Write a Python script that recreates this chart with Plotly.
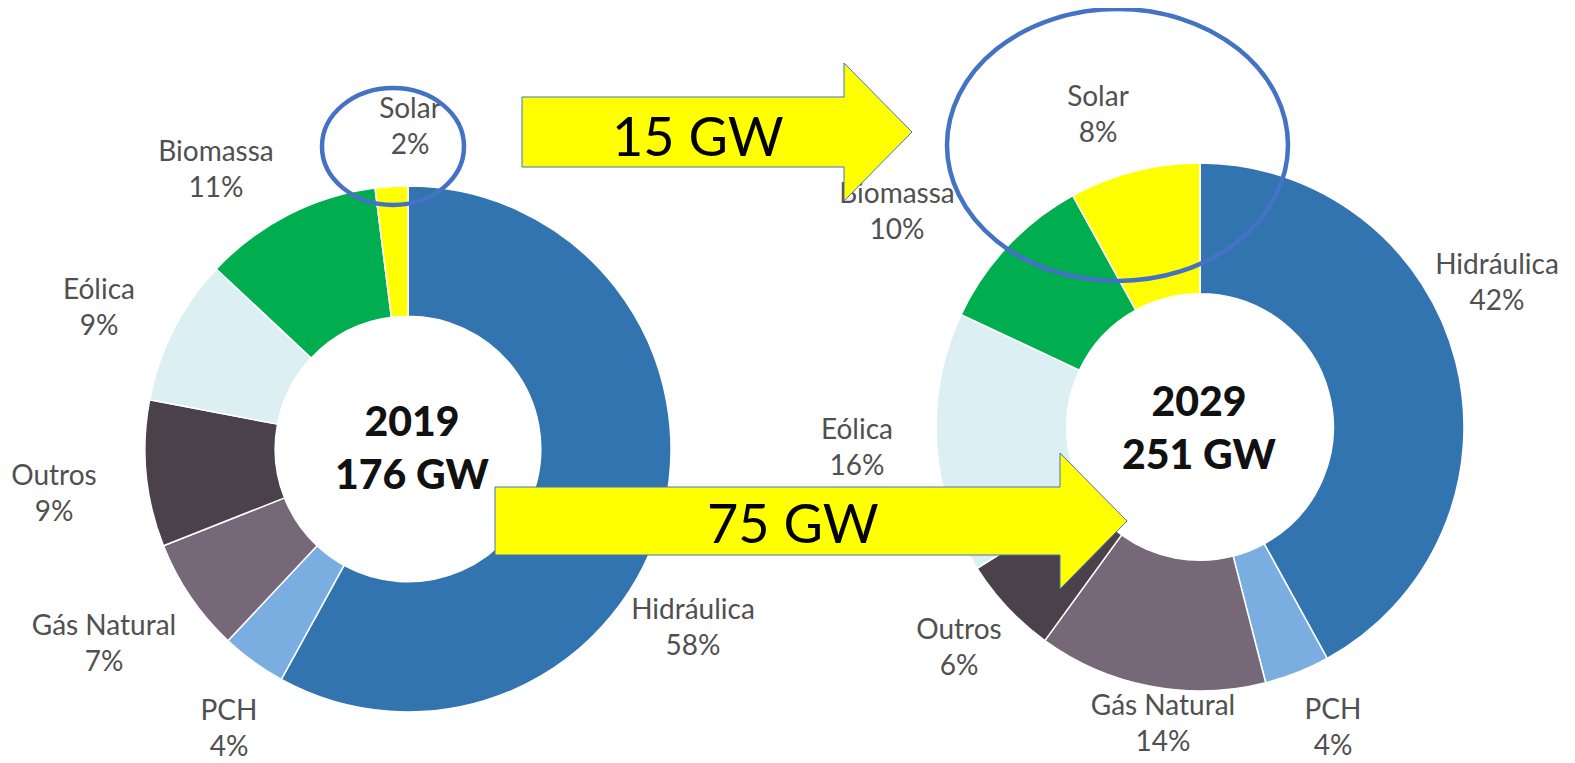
import plotly.graph_objects as go

# ---------------- data ----------------
sources = ["Hidráulica", "PCH", "Gás Natural", "Outros", "Eólica", "Biomassa", "Solar"]
share_2019 = [58, 4, 7, 9, 9, 11, 2]
share_2029 = [42, 4, 14, 6, 16, 10, 8]
years = ["2019", "2029"]
capacity_gw = [176, 251]
growth_solar = "15 GW"
growth_total = "75 GW"

# ---------------- styles / layout constants ----------------
colors = ["#3274AF", "#7BAEE0", "#766878", "#4B414B", "#DCF0F4", "#00AE50", "#FFFF00"]
WIN_W, WIN_H = 1575, 763
OFF = 8  # default body margin of the html page
W, H = WIN_W - OFF, WIN_H - OFF
pie_centers = [(408, 449), (1200, 427)]
pie_radius = [263, 264]
hole = 0.505
label_pos = [
    [(693, 630), (229, 731), (104, 646), (54, 496), (99, 310), (216, 172), (410, 129)],
    [(1497, 285), (1333, 730), (1163, 726), (959, 650), (857, 450), (897, 214), (1098, 117)],
]
center_text_pos = [(412, 447), (1199, 427)]
label_font = dict(family="Lato", size=28, color="#505050")
blue_line = "#4472C4"

fig = go.Figure()


def px_domain(cx, cy, r):
    return dict(x=[(cx - r - OFF) / W, (cx + r - OFF) / W],
                y=[1 - (cy + r - OFF) / H, 1 - (cy - r - OFF) / H])


for i, shares in enumerate([share_2019, share_2029]):
    cx, cy = pie_centers[i]
    fig.add_trace(go.Pie(
        labels=sources, values=shares, sort=False, direction="clockwise", rotation=0,
        hole=hole, textinfo="none", hoverinfo="label+percent",
        marker=dict(colors=colors, line=dict(color="white", width=1.5)),
        domain=px_domain(cx, cy, pie_radius[i]),
        showlegend=False,
    ))
    fig.add_trace(go.Scatter(
        x=[p[0] for p in label_pos[i]], y=[p[1] for p in label_pos[i]],
        mode="text", text=[f"{s}<br>{v}%" for s, v in zip(sources, shares)],
        textposition="middle center", textfont=label_font,
        hoverinfo="skip", showlegend=False,
    ))
    fig.add_annotation(
        x=center_text_pos[i][0], y=center_text_pos[i][1], xref="x", yref="y",
        text=f"{years[i]}<br>{capacity_gw[i]} GW", showarrow=False,
        font=dict(family="Lato", size=41, color="#111111", weight=900), align="center",
    )


def arrow_path(x0, xb, xt, yc, hs, hh):
    return (f"M {x0} {yc - hs} L {xb} {yc - hs} L {xb} {yc - hh} L {xt} {yc} "
            f"L {xb} {yc + hh} L {xb} {yc + hs} L {x0} {yc + hs} Z")


shapes = [
    dict(type="path", path=arrow_path(522, 844, 912, 132, 35, 69), xref="x", yref="y",
         fillcolor="#FFFF00", line=dict(color=blue_line, width=1), layer="above"),
    dict(type="path", path=arrow_path(495, 1060, 1127, 521, 34, 68), xref="x", yref="y",
         fillcolor="#FFFF00", line=dict(color=blue_line, width=1), layer="above"),
    dict(type="circle", x0=322, x1=464, y0=88, y1=205, xref="x", yref="y",
         line=dict(color=blue_line, width=4.5), fillcolor="rgba(0,0,0,0)", layer="above"),
    dict(type="circle", x0=947, x1=1288, y0=9, y1=281, xref="x", yref="y",
         line=dict(color=blue_line, width=4.5), fillcolor="rgba(0,0,0,0)", layer="above"),
]

fig.add_annotation(x=698, y=135, xref="x", yref="y", text=growth_solar, showarrow=False,
                   font=dict(family="Lato", size=54, color="black"))
fig.add_annotation(x=793, y=522, xref="x", yref="y", text=growth_total, showarrow=False,
                   font=dict(family="Lato", size=54, color="black"))

fig.update_layout(
    width=W, height=H, margin=dict(l=0, r=0, t=0, b=0),
    paper_bgcolor="white", plot_bgcolor="white", showlegend=False,
    xaxis=dict(range=[OFF, WIN_W], visible=False, fixedrange=True),
    yaxis=dict(range=[WIN_H, OFF], visible=False, fixedrange=True),
    shapes=shapes,
)

fig.write_html("out.html")
